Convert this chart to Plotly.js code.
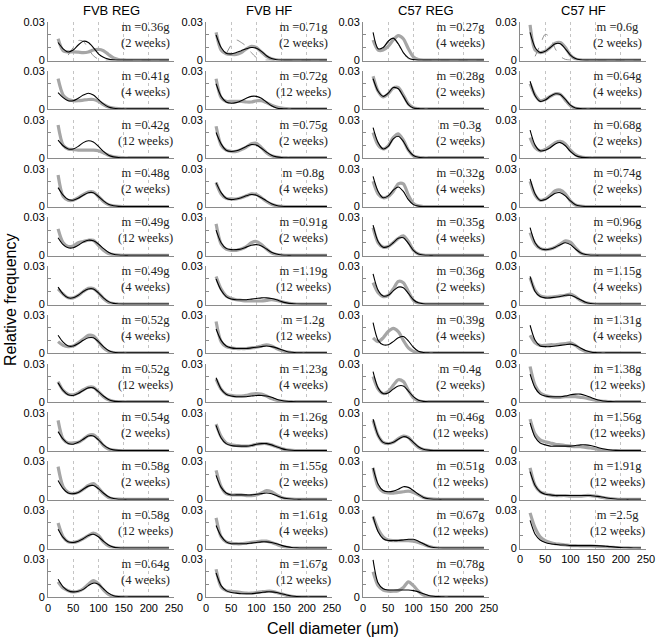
<!DOCTYPE html>
<html><head><meta charset="utf-8">
<script src="https://cdn.plot.ly/plotly-3.0.1.min.js"></script>
<style>body{margin:0;background:#fff}#chart{width:661px;height:640px}</style>
</head><body><div id="chart"></div>
<script>
// cell diameter grid (µm)
const X = [20,30,40,50,60,70,80,90,100,110,120,130,140,150,160,170,180,190,200,210,220,230,240];
// values in units of 0.001 relative frequency
const FVB_REG_FIT = [
[14,9,6.5,8,12,15,14,10,5,2.2,0.8,0.2,0,0,0,0,0,0,0,0,0,0,0],
[13,9,6.5,6.5,8.5,11,12.5,11,7.5,4,1.5,0.5,0.1,0,0,0,0,0,0,0,0,0,0],
[14,9.5,7,7,9,12,13.5,12.5,9,5,2,0.7,0.2,0,0,0,0,0,0,0,0,0,0],
[15,9,5.5,5,6.5,9,11,11,8,4.5,1.8,0.6,0.1,0,0,0,0,0,0,0,0,0,0],
[14,8.5,6,6,8,10.5,12,11.5,9,5.5,2.5,0.8,0.2,0,0,0,0,0,0,0,0,0,0],
[13.5,8,5,5,7,10,12,12,9,5,2,0.6,0.1,0,0,0,0,0,0,0,0,0,0],
[14,8.5,5.5,5.5,7.5,10,12,12,9,5,2,0.6,0.1,0,0,0,0,0,0,0,0,0,0],
[15,9,5.5,5,6.5,9,11,11,8,4.5,1.8,0.5,0.1,0,0,0,0,0,0,0,0,0,0],
[15,9,5.5,5,6.5,9,11.5,11.5,8.5,4.5,1.8,0.5,0.1,0,0,0,0,0,0,0,0,0,0],
[15,8.5,5,4.5,5.5,8,10.5,11,8.5,5,2,0.6,0.1,0,0,0,0,0,0,0,0,0,0],
[15,8.5,5,4.5,5.5,7.5,10,11,9,5.5,2.5,0.8,0.2,0,0,0,0,0,0,0,0,0,0],
[14,8,5,4,4.5,6,9,11,10,6.5,3,1,0.3,0,0,0,0,0,0,0,0,0,0]
];
const FVB_REG_DATA = [
[17,7.5,6.5,6.5,6.3,6,6.5,8,8.5,7.5,4.5,1.8,0.5,0.2,0,0,0,0,0,0,0,0,0],
[24,11,7.5,6.5,6.5,7,7.5,7.5,6,3.5,1.5,0.6,0.2,0,0,0,0,0,0,0,0,0,0],
[26,10,7,6.5,6,6,6,6,5.5,4,2,0.8,0.3,0,0,0,0,0,0,0,0,0,0],
[25,8,5,5,7,9.5,11.5,11.5,8,4,1.5,0.5,0.1,0,0,0,0,0,0,0,0,0,0],
[21,10,7,7.5,10,11,12,12,8,4,1.5,0.5,0.1,0,0,0,0,0,0,0,0,0,0],
[12,8,5,5,7,10,12.5,12.5,9,4.5,1.5,0.4,0.1,0,0,0,0,0,0,0,0,0,0],
[9,6,5,5.5,8,11,14,13.5,9,4,1.2,0.3,0,0,0,0,0,0,0,0,0,0,0],
[16,9,6,5.5,7,9.5,11.5,11.5,8,4,1.5,0.4,0.1,0,0,0,0,0,0,0,0,0,0],
[24,9,6,6,6.5,9,12,12.5,9,4,1.2,0.3,0,0,0,0,0,0,0,0,0,0,0],
[26,10,5.5,4.5,5.5,8,11,12.5,9,4.5,1.5,0.4,0.1,0,0,0,0,0,0,0,0,0,0],
[20,9,5,4.5,5.5,7.5,10,12,10,5,1.8,0.5,0.1,0,0,0,0,0,0,0,0,0,0],
[12,7,5,4,4.5,6.5,10,13,10.5,5.5,2,0.5,0.1,0,0,0,0,0,0,0,0,0,0]
];
const FVB_HF_FIT = [
[20,10,5.5,5,6,7.5,9,10,9.5,7,3.5,1.2,0.3,0,0,0,0,0,0,0,0,0,0],
[20,10,5.5,4.5,5,6.5,8.5,10,10,8.5,5.5,2.5,0.8,0.2,0,0,0,0,0,0,0,0,0],
[20,11,6,5,5.5,7,9,10.5,10,7.5,4.5,2,0.7,0.2,0,0,0,0,0,0,0,0,0],
[19,11,6.5,5.5,6,7,8.5,9.5,9,7,4.5,2.2,0.8,0.2,0,0,0,0,0,0,0,0,0],
[20,10,5.5,4.5,4.5,5,6.5,8,8.5,7.5,5,2.5,1,0.3,0,0,0,0,0,0,0,0,0],
[20,11,6,4,3.5,3.5,3.5,4,4.5,5,5,4.5,3.5,2,1,0.4,0.1,0,0,0,0,0,0],
[19,10,5.5,4,3.5,3.5,3.5,4,4.5,5,5.5,5,4,2.5,1.2,0.5,0.1,0,0,0,0,0,0],
[19,10,6,4.5,4,4,4,4.5,5,5,4.5,3.5,2,1,0.4,0.1,0,0,0,0,0,0,0],
[20,10,5.5,4,3.5,3.5,3.5,4,5,5.5,5.5,4.5,3,1.5,0.6,0.2,0,0,0,0,0,0,0],
[19,9.5,5,3.5,3.5,3.5,3.5,3.5,4,4.5,5,4.5,3,1.5,0.6,0.2,0,0,0,0,0,0,0],
[18,9.5,5,3.5,3.5,3.5,3.5,4,4.5,5,5,4.5,3.5,2.2,1.2,0.5,0.2,0,0,0,0,0,0],
[19,9,5,3.5,3,2.5,2.5,2.5,3,3.5,4,4,3.5,2.5,1.5,0.7,0.3,0.1,0,0,0,0,0]
];
const FVB_HF_DATA = [
[22,8,5,4.5,4.5,6,9,11,10,6.5,3,1,0.3,0,0,0,0,0,0,0,0,0,0],
[24,9,6,6,6,6,5.5,5.5,6.5,6.5,5,3,1.5,0.7,0.3,0,0,0,0,0,0,0,0],
[25,10,6,5,5,6.5,8.5,11,11.5,8,4,1.5,0.5,0.1,0,0,0,0,0,0,0,0,0],
[19,10,6.5,6,6,7,8.5,10,9.5,7,4,1.8,0.6,0.1,0,0,0,0,0,0,0,0,0],
[25,9,5,4,4,5,7,10,11,8.5,5,2,0.6,0.1,0,0,0,0,0,0,0,0,0],
[22,12,6.5,4.5,3.5,3,2.5,2.5,2.5,2.5,3,3.5,3,2,1,0.4,0.1,0,0,0,0,0,0],
[25,9,5,4,3.5,3.5,3.5,4,4.5,5.5,6.5,5.5,3.5,2,0.8,0.3,0,0,0,0,0,0,0],
[18,10,6,5,4.5,4.5,5,6,6.5,6,4.5,2.5,1.2,0.5,0.1,0,0,0,0,0,0,0,0],
[21,11,6,4.5,4,3.5,3.5,4,5,5.5,5.5,4.5,3,1.5,0.6,0.1,0,0,0,0,0,0,0],
[23,10,4.5,3.5,3.5,3.5,3,3,3.5,5,7,6,3.5,1.5,0.5,0.1,0,0,0,0,0,0,0],
[24,9,5,4,3.5,3.5,4,4.5,5,5.5,5.5,4.5,3,1.5,0.6,0.1,0,0,0,0,0,0,0],
[22,8,5,4.5,4,3.5,3,3,3.5,4,4.5,4.5,3.5,2.5,1.2,0.5,0.1,0,0,0,0,0,0]
];
const C57_REG_FIT = [
[22,9,10,15,17.5,13,6,1.8,0.4,0,0,0,0,0,0,0,0,0,0,0,0,0,0],
[24,14,10,12.5,17,16,10,3.5,0.8,0.2,0,0,0,0,0,0,0,0,0,0,0,0,0],
[24,12,7,9,15,17,13,6,1.8,0.4,0,0,0,0,0,0,0,0,0,0,0,0,0],
[24,12,7,8.5,13,15.5,12,5.5,1.5,0.3,0,0,0,0,0,0,0,0,0,0,0,0,0],
[24,11,6.5,7,10,13.5,14,9.5,4,1,0.2,0,0,0,0,0,0,0,0,0,0,0,0],
[24,11,6.5,7,10.5,13.5,13,8.5,3.5,1,0.2,0,0,0,0,0,0,0,0,0,0,0,0],
[24,10,6.5,6.5,9,12,13,9.5,4.5,1.3,0.3,0,0,0,0,0,0,0,0,0,0,0,0],
[24,11,6.5,7,10,12.5,12.5,8.5,4,1.2,0.3,0,0,0,0,0,0,0,0,0,0,0,0],
[25,12,6.5,5.5,6.5,9,11,10,6.5,3,1,0.3,0,0,0,0,0,0,0,0,0,0,0],
[25,12,7,6,6.5,8,10,9.5,7,4,1.5,0.5,0.1,0,0,0,0,0,0,0,0,0,0],
[25,13,7.5,6,6,6,6.5,7,7,5.5,3.5,1.5,0.5,0.1,0,0,0,0,0,0,0,0,0],
[29.5,11,6.5,5.5,5.5,5.5,5.5,5.5,5,4,2.5,1.2,0.5,0.2,0,0,0,0,0,0,0,0,0]
];
const C57_REG_DATA = [
[16,8,8,11,16,19.5,17,9,2.5,0.5,0,0,0,0,0,0,0,0,0,0,0,0,0],
[26,14,9.5,12,16.5,17,11,4,1,0.2,0,0,0,0,0,0,0,0,0,0,0,0,0],
[20,10,7,9.5,16,19,14,6,1.5,0.3,0,0,0,0,0,0,0,0,0,0,0,0,0],
[20,10,7,8,12,18,18,9,2.5,0.5,0,0,0,0,0,0,0,0,0,0,0,0,0],
[22,10,6.5,7,10,13.5,15.5,11,4,1,0.2,0,0,0,0,0,0,0,0,0,0,0,0],
[17,9,6,7,12,18,17,10,3,0.6,0,0,0,0,0,0,0,0,0,0,0,0,0],
[12,9,12,17,19.5,17,10,4,1.2,0.3,0,0,0,0,0,0,0,0,0,0,0,0,0],
[20,10,6.5,8,13,17.5,16,9,3,0.7,0,0,0,0,0,0,0,0,0,0,0,0,0],
[24,12,6.5,5.5,6.5,9.5,11.5,10.5,6,2.5,0.8,0.2,0,0,0,0,0,0,0,0,0,0,0],
[25,10,6,5,5,5.5,6,6.5,5.5,3.5,1.5,0.5,0.1,0,0,0,0,0,0,0,0,0,0],
[25,15,9,6.5,6,6,6,6,5.5,4.5,3,1.5,0.5,0.1,0,0,0,0,0,0,0,0,0],
[20,9,5.5,4.5,4.5,5,7.5,12,9,4.5,1.5,0.5,0.1,0,0,0,0,0,0,0,0,0,0]
];
const C57_HF_FIT = [
[22,10,6,7,10,13,13,9,4,1.3,0.3,0,0,0,0,0,0,0,0,0,0,0,0],
[22,10.5,6,7,10,12,11.5,7.5,3,0.8,0.2,0,0,0,0,0,0,0,0,0,0,0,0],
[22,10,5.5,6,8,11,12,9.5,5,1.8,0.5,0.1,0,0,0,0,0,0,0,0,0,0,0],
[22,10,5,5.5,8,10.5,11,8.5,4.5,1.5,0.4,0,0,0,0,0,0,0,0,0,0,0,0],
[22,10,5.5,4.5,5,6.5,8.5,10,8.5,5,2,0.6,0.1,0,0,0,0,0,0,0,0,0,0],
[22,10,6,5,5,5.5,6,7,7,5.5,3.5,1.5,0.5,0.1,0,0,0,0,0,0,0,0,0],
[22,10,5.5,5,5,5.5,6,6.5,7,6,4,2,0.8,0.2,0,0,0,0,0,0,0,0,0],
[22,11,6,4.5,4,4,4,4.5,5.5,6,6,5,3.5,2,1,0.4,0.1,0,0,0,0,0,0],
[22,10.5,6,4.5,3.5,3.5,3.5,3.5,3.5,4,4.5,4.5,4,3,1.8,1,0.4,0.1,0,0,0,0,0],
[22,11,6,4,3.5,3,3,3,3,3,3,3,3,2.5,2,1.3,0.7,0.3,0.1,0,0,0,0],
[22,11,6.5,4.5,3.5,3,2.5,2.5,2,2,2,2,2,2,1.8,1.5,1.2,0.8,0.5,0.3,0.2,0.1,0]
];
const C57_HF_DATA = [
[28,8,6,7,10,13.5,14,10,4,1,0.2,0,0,0,0,0,0,0,0,0,0,0,0],
[20,11,6.5,7.5,10,12,11.5,7,2.5,0.6,0.1,0,0,0,0,0,0,0,0,0,0,0,0],
[16,8,5.5,6.5,9,12,13,11,6,2.5,0.7,0.1,0,0,0,0,0,0,0,0,0,0,0],
[20,9,5,6,9,12.5,13,10,4.5,1.2,0.3,0,0,0,0,0,0,0,0,0,0,0,0],
[18,9,5.5,4.5,5,6.5,9,11.5,10.5,6,2,0.5,0.1,0,0,0,0,0,0,0,0,0,0],
[21,11,6.5,5.5,5.5,6,6.5,7,8,6,3,1.2,0.4,0.1,0,0,0,0,0,0,0,0,0],
[14,8,6,6,6.5,6.5,7,7.5,8,6,3,1.2,0.4,0.1,0,0,0,0,0,0,0,0,0],
[28,13,7,5,4,3.5,3.5,4,4,4,3.5,3,2,1.2,0.6,0.2,0,0,0,0,0,0,0],
[25,13,8.5,7,6,5,4.5,4,3.5,3,3,2.5,2,1.2,0.6,0.2,0,0,0,0,0,0,0],
[25,11,6,4.5,3.5,3,3,3,2.5,2.5,2.5,3,3,2.5,1.8,1,0.5,0.2,0,0,0,0,0],
[28,16,9,6,4.5,3.5,3,2.5,2,2,1.8,1.8,1.8,1.5,1.2,1,0.7,0.5,0.3,0.2,0.1,0,0]
];
// dashed reference curves (first row only)
const FVB_REG_ALT = [null,null,4,10,15.5,15,9,3.5,0.8,0.1,0,0,0,0,0,0,0,0,0,0,0,0,0];
const FVB_HF_ALT  = [null,null,5,12,16,14,11,6,2,0.4,0,0,0,0,0,0,0,0,0,0,0,0,0];
const C57_REG_ALT = [null,null,9,14,17,12.5,5.5,1.2,0.2,0,0,0,0,0,0,0,0,0,0,0,0,0,0];
const C57_HF_ALT  = [null,3,12,20.5,18,9,3,0.6,0,0,0,0,0,0,0,0,0,0,0,0,0,0,0];

const FVB_REG_M = ['0.36','0.41','0.42','0.48','0.49','0.49','0.52','0.52','0.54','0.58','0.58','0.64'];
const FVB_REG_W = [2,4,12,2,12,4,4,12,2,2,12,4];
const FVB_HF_M = ['0.71','0.72','0.75','0.8','0.91','1.19','1.2','1.23','1.26','1.55','1.61','1.67'];
const FVB_HF_W = [2,12,2,4,2,12,12,4,4,2,4,12];
const C57_REG_M = ['0.27','0.28','0.3','0.32','0.35','0.36','0.39','0.4','0.46','0.51','0.67','0.78'];
const C57_REG_W = [4,2,2,4,4,2,4,2,12,12,12,12];
const C57_HF_M = ['0.6','0.64','0.68','0.74','0.96','1.15','1.31','1.38','1.56','1.91','2.5'];
const C57_HF_W = [2,4,2,2,2,4,4,12,12,12,12];

const GROUPS = ['FVB REG','FVB HF','C57 REG','C57 HF'];
const X_TICKS = [0,50,100,150,200,250];
const Y_TICKS = [0,0.01,0.02,0.03];
const Y_TICKTEXT = ['0','','','0.03'];

const columns = [
  {fit:FVB_REG_FIT, data:FVB_REG_DATA, alt:FVB_REG_ALT, m:FVB_REG_M, w:FVB_REG_W},
  {fit:FVB_HF_FIT, data:FVB_HF_DATA, alt:FVB_HF_ALT, m:FVB_HF_M, w:FVB_HF_W},
  {fit:C57_REG_FIT, data:C57_REG_DATA, alt:C57_REG_ALT, m:C57_REG_M, w:C57_REG_W},
  {fit:C57_HF_FIT, data:C57_HF_DATA, alt:C57_HF_ALT, m:C57_HF_M, w:C57_HF_W}
];

const W = 661, H = 640;
const colX0 = [48, 206, 363, 520], panelW = 126;
const rowTop0 = 22, rowStep = 48.8, panelH = 38.5;
const sc = v => v == null ? null : v / 1000;

const traces = [];
const layout = {
  width: W, height: H, margin: {l:0, r:0, t:0, b:0},
  paper_bgcolor: '#fff', plot_bgcolor: '#fff', showlegend: false,
  font: {family: 'Liberation Sans, Arial, sans-serif', color: '#000', size: 11},
  annotations: []
};
const tickFont = {family: 'Liberation Sans, Arial, sans-serif', size: 11, color: '#000'};
const serif = {family: 'Liberation Serif, Times New Roman, serif', size: 12.5, color: '#222'};

let k = 0;
columns.forEach((col, c) => {
  const n = col.fit.length;
  for (let r = 0; r < n; r++) {
    k++;
    const xs = k === 1 ? '' : String(k);
    const xId = 'x' + xs, yId = 'y' + xs;
    const top = rowTop0 + rowStep * r, bot = top + panelH;
    layout['xaxis' + xs] = {
      domain: [colX0[c] / W, (colX0[c] + panelW) / W], anchor: yId,
      range: [0, 250], tickvals: X_TICKS, showticklabels: r === n - 1, tickfont: tickFont,
      showgrid: true, gridcolor: '#c4c4c4', griddash: 'dot', gridwidth: 1,
      zeroline: false, showline: true, linecolor: '#8a8a8a', linewidth: 1, ticks: '', fixedrange: true
    };
    layout['yaxis' + xs] = {
      domain: [1 - bot / H, 1 - top / H], anchor: xId,
      range: [-0.0003, 0.0303], tickvals: Y_TICKS, ticktext: Y_TICKTEXT, tickfont: tickFont,
      ticks: 'inside', ticklen: 3, tickcolor: '#8a8a8a', showgrid: false, zeroline: false,
      showline: true, linecolor: '#8a8a8a', linewidth: 1, fixedrange: true
    };
    traces.push({type:'scatter', mode:'lines', x: X, y: col.data[r].map(sc), xaxis: xId, yaxis: yId,
      line: {color: '#a6a6a6', width: 3.2, shape: 'spline', smoothing: 0.8}, hoverinfo: 'skip'});
    if (r === 0) {
      traces.push({type:'scatter', mode:'lines', x: X, y: col.alt.map(sc), xaxis: xId, yaxis: yId,
        line: {color: '#909090', width: 1, dash: 'dash', shape: 'spline', smoothing: 0.8}, hoverinfo: 'skip'});
    }
    traces.push({type:'scatter', mode:'lines', x: X, y: col.fit[r].map(sc), xaxis: xId, yaxis: yId,
      line: {color: '#000', width: 1.1, shape: 'spline', smoothing: 0.8}, hoverinfo: 'skip'});
    layout.annotations.push({xref: xId, yref: yId, x: 194, y: 0.0200,
      text: 'm =' + col.m[r] + 'g<br>(' + col.w[r] + ' weeks)',
      showarrow: false, xanchor: 'center', yanchor: 'middle', align: 'center', font: serif});
  }
  layout.annotations.push({xref: 'paper', yref: 'paper', x: (colX0[c] + panelW / 2) / W, y: 1 - 10 / H,
    text: GROUPS[c], showarrow: false, xanchor: 'center', yanchor: 'middle',
    font: {family: 'Liberation Sans, Arial, sans-serif', size: 13, color: '#000'}});
});
layout.annotations.push({xref:'paper', yref:'paper', x: 333 / W, y: 1 - 628 / H, text: 'Cell diameter (μm)',
  showarrow:false, xanchor:'center', yanchor:'middle', font:{family:'Liberation Sans, Arial, sans-serif', size:16, color:'#000'}});
layout.annotations.push({xref:'paper', yref:'paper', x: 10 / W, y: 1 - 300 / H, text: 'Relative frequency', textangle: -90,
  showarrow:false, xanchor:'center', yanchor:'middle', font:{family:'Liberation Sans, Arial, sans-serif', size:16, color:'#000'}});

Plotly.newPlot('chart', traces, layout, {staticPlot: true, displayModeBar: false});
</script></body></html>
